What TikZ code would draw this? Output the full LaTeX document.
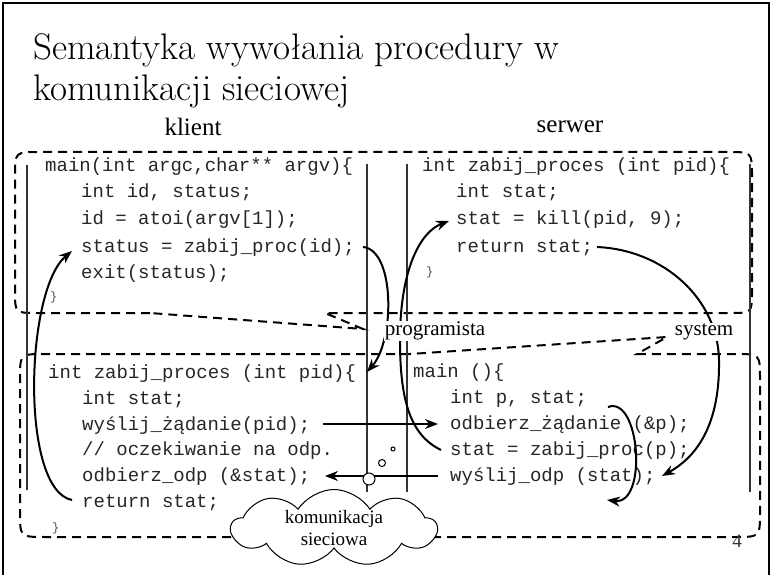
\documentclass[tikz,border=0pt]{standalone}
\usepackage{fontspec}
\newfontfamily\labfont{Liberation Serif}
\newfontfamily\codefont{Liberation Mono}
\usetikzlibrary{shapes.symbols,arrows.meta}
\begin{document}
\begin{tikzpicture}[x=1pt,y=-1pt,
  code/.style={anchor=base west,inner sep=0pt,text=black!85,font=\codefont\fontsize{19}{22}\selectfont},
  brace/.style={anchor=base west,inner sep=0pt,font=\codefont\fontsize{12}{14}\selectfont,text=black!70},
  lab/.style={font=\labfont\fontsize{21}{24}\selectfont,inner sep=1pt,fill=white},
  head/.style={font=\labfont\fontsize{25}{28}\selectfont,inner sep=0pt},
  titletext/.style={anchor=base west,inner sep=0pt,font=\fontsize{37}{44}\selectfont},
  dashbox/.style={line width=2pt,dash pattern=on 9pt off 6pt},
  vline/.style={line width=1.2pt,draw=black!80},
  arr/.style={line width=2pt,-{Stealth[length=13pt,width=10pt]}},
  bubble/.style={circle,draw,fill=white,line width=1pt,inner sep=0pt}
]
\useasboundingbox (0,0) rectangle (772,575);
% outer frame
\draw[line width=2pt] (3,580) -- (3,3) -- (769,3) -- (769,580);

% title and headings
\node[titletext] (t1) at (33,60) {Semantyka wywołania procedury w};
\node[titletext] (t2) at (33,101) {komunikacji sieciowej};
\node[head] (kl) at (193,127) {klient};
\node[head] (sw) at (570,127) {serwer};

% dashed callout boxes
\draw[dashbox] (150,313) -- (37,313) .. controls (15,313) .. (15,291) -- (15,176)
  .. controls (15,152) .. (39,152) -- (728,152) .. controls (752,152) .. (752,176)
  -- (752,291) .. controls (752,313) .. (730,313) -- (325,313) -- (363,329) -- cycle;
\draw[dashbox] (410,354) -- (45,354) .. controls (20,354) .. (20,379) -- (20,512)
  .. controls (20,537) .. (45,537) -- (735,537) .. controls (760,537) .. (760,512)
  -- (760,379) .. controls (760,354) .. (735,354) -- (637,354) -- (667,337) -- cycle;

% vertical lines
\draw[vline] (27,165) -- (27,490);
\draw[vline] (367,164) -- (367,492);
\draw[vline] (407,164) -- (407,492);
\draw[vline] (750,164) -- (750,492);

% client main
\node[code] (c1) at (45,172) {main(int argc,char** argv)\{};
\node[code] (c2) at (81,198) {int id, status;};
\node[code] (c3) at (81,225) {id = atoi(argv[1]);};
\node[code] (c4) at (81,252) {status = zabij\_proc(id);};
\node[code] (c5) at (81,278) {exit(status);};
\node[brace] (c6) at (50,301) {\}};

% server procedure
\node[code] (s1) at (422,172) {int zabij\_proces (int pid)\{};
\node[code] (s2) at (456,198) {int stat;};
\node[code] (s3) at (456,225) {stat = kill(pid, 9);};
\node[code] (s4) at (456,252) {return stat;};
\node[brace] (s5) at (426,276) {\}};

% client stub
\node[code] (b1) at (48,378) {int zabij\_proces (int pid)\{};
\node[code] (b2) at (82,404) {int stat;};
\node[code] (b3) at (82,430) {wyślij\_żądanie(pid);};
\node[code] (b4) at (82,455) {// oczekiwanie na odp.};
\node[code] (b5) at (82,481) {odbierz\_odp (\&stat);};
\node[code] (b6) at (82,507) {return stat;};
\node[brace] (b7) at (52,531) {\}};

% server stub
\node[code] (r1) at (413,377) {main ()\{};
\node[code] (r2) at (450,403) {int p, stat;};
\node[code] (r3) at (450,429) {odbierz\_żądanie (\&p);};
\node[code] (r4) at (450,455) {stat = zabij\_proc(p);};
\node[code] (r5) at (450,481) {wyślij\_odp (stat);};

% arrow end points
\coordinate (a1s) at (363,247); \coordinate (a1e) at (367,372);
\coordinate (a2s) at (441,450); \coordinate (a2e) at (449,221);
\coordinate (a3s) at (597,247); \coordinate (a3e) at (662,476);
\coordinate (a4s) at (608,407); \coordinate (a4e) at (607,500);
\coordinate (a5s) at (72,500);  \coordinate (a5e) at (72,251);
\coordinate (a6s) at (323,424); \coordinate (a6e) at (438,424);
\coordinate (a7s) at (438,476); \coordinate (a7e) at (325,476);

\draw[arr] (a1s) .. controls (395,250) and (395,340) .. (a1e);
\draw[arr] (a2s) .. controls (410,435) and (400,400) .. (400,340)
  .. controls (400,270) and (420,232) .. (a2e);
\draw[arr] (a3s) .. controls (665,250) and (718,300) .. (719,360)
  .. controls (720,420) and (700,455) .. (a3e);
\draw[arr] (a4s) .. controls (640,395) and (648,505) .. (a4e);
\draw[arr] (a5s) .. controls (20,490) and (25,290) .. (a5e);
\draw[arr] (a6s) -- (a6e);
\draw[arr] (a7s) -- (a7e);

% labels
\node[lab] (prog) at (435,331) {programista};
\node[lab] (sys) at (704,332) {system};

% cloud with bubbles
\node[cloud, draw, fill=white, line width=1pt, cloud puffs=9, cloud puff arc=115,
  aspect=3.2, minimum width=205pt, minimum height=62pt, inner sep=0pt, align=center,
  font=\labfont\fontsize{19}{22}\selectfont] (cl) at (334,528) {komunikacja\\sieciowa};
\node[bubble, minimum size=12pt] (o1) at (369,479) {};
\node[bubble, minimum size=7pt] (o2) at (382,463) {};
\node[bubble, minimum size=4pt] (o3) at (393,449) {};

\node[font=\labfont\fontsize{19}{21}\selectfont, inner sep=0pt, text=black!80] (pn) at (737,541) {4};
\end{tikzpicture}
\end{document}
